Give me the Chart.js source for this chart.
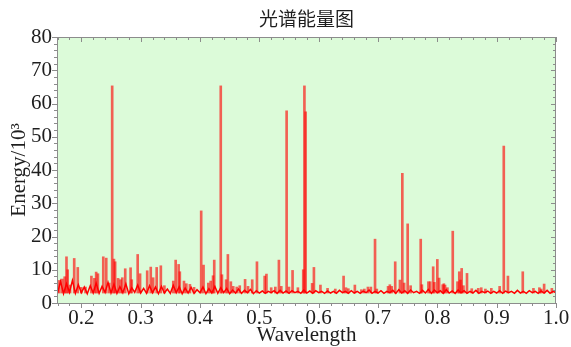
<!DOCTYPE html>
<html><head><meta charset="utf-8">
<script src="https://cdn.jsdelivr.net/npm/chart.js@4.4.1/dist/chart.umd.min.js"></script>
<style>html,body{margin:0;padding:0;background:#fff}#wrap{width:571px;height:347px}</style>
</head><body><div id="wrap"><canvas id="c" width="571" height="347"></canvas></div>
<script>
const chartTitle = '光谱能量图';
const xAxisTitle = 'Wavelength';
const yAxisTitle = 'Energy/10³';
const xTickValues = [0.2, 0.3, 0.4, 0.5, 0.6, 0.7, 0.8, 0.9, 1.0];
const yTickValues = [0, 10, 20, 30, 40, 50, 60, 70, 80];

const spikeWavelength = [
  0.163,0.168,0.172,0.175,0.177,0.181,0.188,0.194,0.200,0.207,
  0.217,0.222,0.225,0.228,0.237,0.242,0.247,0.252,0.255,0.257,
  0.262,0.266,0.269,0.274,0.283,0.285,0.295,0.299,0.311,0.317,
  0.321,0.327,0.334,0.340,0.355,0.359,0.364,0.366,0.373,0.377,
  0.383,0.390,0.402,0.406,0.414,0.418,0.422,0.424,0.435,0.437,
  0.444,0.447,0.452,0.456,0.462,0.467,0.476,0.481,0.488,0.496,
  0.509,0.512,0.520,0.527,0.533,0.537,0.546,0.550,0.556,0.565,
  0.574,0.576,0.578,0.589,0.592,0.603,0.615,0.628,0.642,0.646,
  0.650,0.661,0.672,0.677,0.683,0.688,0.695,0.698,0.717,0.720,
  0.723,0.729,0.737,0.741,0.744,0.750,0.755,0.772,0.774,0.785,
  0.788,0.793,0.795,0.800,0.803,0.809,0.811,0.813,0.817,0.826,
  0.834,0.837,0.839,0.841,0.844,0.850,0.858,0.869,0.874,0.881,
  0.891,0.905,0.912,0.919,0.944,0.962,0.972,0.975,0.980,0.993
];
const spikeEnergy = [
  6.8,7.2,7.9,13.9,10.0,5.4,13.4,10.7,4.7,4.8,
  8.1,7.4,9.3,8.8,13.9,13.5,6.0,65.3,13.2,12.4,
  7.4,7.0,7.6,10.3,10.6,7.0,14.6,8.8,9.7,10.8,
  7.6,10.7,11.2,5.2,6.6,12.9,11.6,9.4,6.6,5.8,
  5.6,4.7,27.7,11.4,6.0,6.6,8.2,12.9,65.3,8.5,
  7.0,14.6,6.4,5.0,4.8,5.2,7.1,5.0,7.0,12.4,
  8.1,8.7,4.6,4.8,12.9,5.0,57.8,4.8,9.8,4.6,
  10.0,65.3,57.5,5.9,10.7,5.4,4.4,4.2,8.1,4.6,
  4.3,5.4,4.0,4.2,4.8,4.8,19.2,4.2,5.0,5.5,
  5.0,12.4,6.9,39.0,6.0,23.8,5.2,19.2,5.5,6.4,
  6.4,10.9,6.2,13.1,7.5,5.5,5.8,5.4,4.6,21.6,
  6.4,9.4,6.9,10.4,5.2,8.9,4.3,4.4,4.6,4.2,
  4.4,5.0,47.2,8.1,9.4,4.4,4.6,4.2,5.7,4.4
];
const spikeBase = 3;

const floorWavelength = [
  0.160,0.165,0.170,0.175,0.180,0.185,0.190,0.195,
  0.200,0.205,0.210,0.215,0.220,0.225,0.230,0.235,0.240,0.245,0.250,0.255,0.260,0.265,0.270,0.275,0.280,0.285,0.290,0.295,
  0.300,0.305,0.310,0.315,0.320,0.325,0.330,0.335,0.340,0.345,0.350,0.355,0.360,0.365,0.370,0.375,0.380,0.385,0.390,0.395,
  0.400,0.405,0.410,0.415,0.420,0.425,0.430,0.435,0.440,0.445,0.450,0.455,0.460,0.465,0.470,0.475,0.480,0.485,0.490,0.495,
  0.500,0.505,0.510,0.515,0.520,0.525,0.530,0.535,0.540,0.545,0.550,0.555,0.560,0.565,0.570,0.575,0.580,0.585,0.590,0.595,
  0.600,0.605,0.610,0.615,0.620,0.625,0.630,0.635,0.640,0.645,0.650,0.655,0.660,0.665,0.670,0.675,0.680,0.685,0.690,0.695,
  0.700,0.705,0.710,0.715,0.720,0.725,0.730,0.735,0.740,0.745,0.750,0.755,0.760,0.765,0.770,0.775,0.780,0.785,0.790,0.795,
  0.800,0.805,0.810,0.815,0.820,0.825,0.830,0.835,0.840,0.845,0.850,0.855,0.860,0.865,0.870,0.875,0.880,0.885,0.890,0.895,
  0.900,0.905,0.910,0.915,0.920,0.925,0.930,0.935,0.940,0.945,0.950,0.955,0.960,0.965,0.970,0.975,0.980,0.985,0.990,0.995,
  1.000
];
const floorEnergy = [
  3.0,6.5,2.8,5.8,3.2,6.8,2.9,5.5,
  3.1,4.8,2.8,5.2,3.0,6.0,2.9,5.0,3.2,6.2,3.0,5.6,2.9,4.9,3.1,5.8,2.8,4.6,3.2,5.4,
  3.0,4.4,2.9,5.2,3.1,4.8,2.8,5.0,3.0,4.2,2.9,5.3,3.1,4.9,2.8,4.5,3.0,4.7,2.9,4.0,
  3.1,4.8,2.8,4.3,3.0,5.0,2.9,4.6,3.1,4.4,2.8,3.9,3.0,4.2,2.9,3.8,3.1,4.1,2.8,3.7,
  3.0,3.6,2.9,3.5,3.1,3.7,2.9,3.8,3.0,3.6,2.9,3.7,3.1,3.5,2.9,3.9,3.0,3.6,2.9,3.7,
  3.1,3.5,2.9,3.6,3.0,3.5,2.9,3.8,3.1,3.5,2.9,3.7,3.0,3.5,2.9,3.6,3.1,3.9,2.9,3.5,
  3.0,3.7,2.9,3.5,3.1,3.8,2.9,4.0,3.0,3.7,2.9,3.9,3.1,3.5,2.9,3.8,3.0,4.1,2.9,3.9,
  3.1,3.7,2.9,4.0,3.0,3.6,2.9,3.9,3.1,3.7,2.9,3.5,3.0,3.8,2.9,3.5,3.1,3.6,2.9,3.5,
  3.0,3.7,2.9,3.6,3.1,3.5,2.9,3.8,3.0,3.5,2.9,3.7,3.1,3.5,2.9,3.6,3.0,3.8,2.9,3.5,
  3.1
];

const plotBg = '#dcfbd9';
const axisColor = '#8c8c8c';
const textColor = '#1e1e1e';

const framePlugin = {
  id: 'frame',
  beforeDraw(chart) {
    const a = chart.chartArea, ctx = chart.ctx;
    ctx.save();
    ctx.fillStyle = plotBg;
    ctx.fillRect(a.left, a.top, a.right - a.left, a.bottom - a.top);
    ctx.restore();
  },
  afterDraw(chart) {
    const a = chart.chartArea, ctx = chart.ctx;
    const xs = chart.scales.x, ys = chart.scales.y;
    ctx.save();
    ctx.strokeStyle = axisColor;
    ctx.lineWidth = 1;
    ctx.strokeRect(a.left + 0.5, a.top + 0.5, a.right - a.left - 1, a.bottom - a.top);
    ctx.beginPath();
    for (let k = 8; k <= 50; k++) {
      const v = k * 0.02;
      if (v < xs.min - 1e-9 || v > xs.max + 1e-9) continue;
      const px = Math.round(xs.getPixelForValue(v)) + 0.5;
      const major = k % 5 === 0;
      const len = major ? 5 : 3;
      ctx.moveTo(px, a.bottom); ctx.lineTo(px, a.bottom + len);
      ctx.moveTo(px, a.top); ctx.lineTo(px, a.top + len);
    }
    for (let k = 0; k <= 40; k++) {
      const v = k * 2;
      const py = Math.round(ys.getPixelForValue(v)) + 0.5;
      const major = k % 5 === 0;
      const len = major ? 5 : 3;
      ctx.moveTo(a.left, py); ctx.lineTo(a.left - len, py);
      ctx.moveTo(a.right, py); ctx.lineTo(a.right - len, py);
    }
    ctx.stroke();
    ctx.fillStyle = textColor;
    ctx.font = '19px "Noto Sans CJK SC"';
    ctx.textAlign = 'center';
    ctx.textBaseline = 'middle';
    ctx.fillText(chartTitle, (a.left + a.right) / 2, 19);
    ctx.restore();
  }
};

const serif = 'Liberation Serif';

new Chart(document.getElementById('c'), {
  type: 'bar',
  data: {
    datasets: [
      {
        type: 'line',
        data: floorWavelength.map((w, i) => ({ x: w, y: floorEnergy[i] })),
        borderColor: '#ff0000',
        borderWidth: 1.5,
        pointRadius: 0,
        tension: 0,
        fill: false,
        order: 1
      },
      {
        type: 'bar',
        data: spikeWavelength.map((w, i) => ({ x: w, y: [spikeBase, spikeEnergy[i]] })),
        backgroundColor: 'rgba(255,0,0,0.62)',
        borderWidth: 0,
        barThickness: 2,
        order: 2
      }
    ]
  },
  options: {
    responsive: false,
    animation: false,
    events: [],
    layout: { padding: { top: 37, right: 15, left: 0, bottom: 0 } },
    plugins: { legend: { display: false }, tooltip: { enabled: false }, title: { display: false } },
    scales: {
      x: {
        type: 'linear', min: 0.159, max: 1.0, offset: false,
        grid: { display: false, drawTicks: false },
        border: { display: false },
        ticks: {
          padding: 3, color: textColor, maxRotation: 0, autoSkip: false,
          font: { family: serif, size: 21 },
          callback: v => Number(v).toFixed(1)
        },
        title: { display: true, text: xAxisTitle, color: textColor,
          font: { family: serif, size: 21, lineHeight: 1 }, padding: { top: 0, bottom: 1 } },
        afterBuildTicks: s => { s.ticks = xTickValues.map(v => ({ value: v })); },
        afterFit: s => { s.height = 44; s.paddingLeft = 0; s.paddingRight = 0; }
      },
      y: {
        min: 0, max: 80,
        grid: { display: false, drawTicks: false },
        border: { display: false },
        ticks: { padding: 5, color: textColor, font: { family: serif, size: 21 } },
        title: { display: true, text: yAxisTitle, color: textColor,
          font: { family: serif, size: 21, lineHeight: 1 }, padding: { top: 9, bottom: 0 } },
        afterBuildTicks: s => { s.ticks = yTickValues.map(v => ({ value: v })); },
        afterFit: s => { s.width = 57; s.paddingTop = 0; s.paddingBottom = 0; }
      }
    }
  },
  plugins: [framePlugin]
});
</script>
</body></html>
